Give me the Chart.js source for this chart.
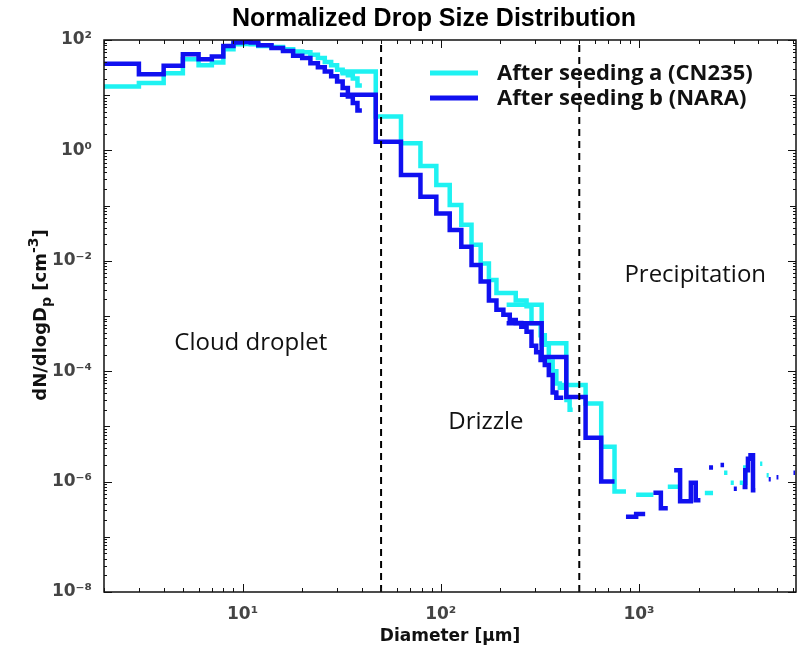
<!DOCTYPE html>
<html><head><meta charset="utf-8">
<script src="https://cdn.jsdelivr.net/npm/chart.js@4"></script>
<style>html,body{margin:0;padding:0;background:#fff}</style>
</head><body>
<canvas id="c" width="800" height="655"></canvas>
<script>
// ---------- data ----------
// Droplet probe, bin edges in µm
const cdpEdges = [2,3,4,5,6,7,8,9,10,11,12,13,14,16,18,20,22,24,26,28,30,32,34,36,38,40,42,44,46,48,50];
const cyanCdp = [14.4,16.6,25,44.7,35,39,68,84,85,84,78,78,75,68,62,60,54,47,40,35,29,25,23,20,15,null,null,null,null,null];
const blueCdp = [37,24,34,55,45,50,78,90,92,90,80,80,72,63,52,47,38,32,27,22,17.8,13.5,9.5,7.2,5.3,null,null,null,null,null];

// Cloud imaging probe, bin edges in µm
const probe2Edges = [31,47,63,79,95,111,127,143,159,175,191,207,223,239,255,271,287,303,319,335,351,367,383,399,415,431,447,463];
const cyanProbe2 = [27,4.1,1.35,0.52,0.236,0.103,0.045,0.0195,0.0089,0.0045,0.0026,0.0026,0.0026,0.0019,0.0019,0.0015,0.00074,0.00074,0.00045,0.0003,0.00015,0.0001,0.00006,0.00005,0.000056,0.00003,0.00002];
const blueProbe2 = [10.2,1.44,0.358,0.145,0.072,0.036,0.018,0.0084,0.0042,0.0019,0.0013,0.00105,0.00085,0.00075,0.00064,0.00052,0.00029,0.00022,0.00016,0.00013,0.000085,0.000041,0.000033,0.000033,null,null,null];

// Precipitation probe, bin edges in µm
const probe3Edges = [215,323,430,538,645,753,860,968,1075,1183,1290,1398,1505,1613,1720,1828,1935,2043,2150,2258,2365,2473,2580,2688,2795,2903,3010,3118,3225,3333,3440,3548,3655,3763,3870,3978,4085,4193,4300,4408,4515,4623,4730,4838,4945,5053,5160,5268,5375,5483,5590,5698,5805,5913,6020,6128];
const cyanProbe3 = [1.6e-3,3.2e-4,5.6e-5,2.6e-5,4.3e-6,6.6e-7,null,5.8e-7,5.8e-7,null,null,8.1e-7,8.1e-7,null,null,null,null,null,6.2e-7,6.2e-7,null,null,null,1.45e-6,null,9.5e-7,null,null,9.5e-7,9.5e-7,1.8e-6,null,null,null,null,null,2.1e-6,null,null,1.3e-6,null,null,null,null,null,null,null,null,null,null,null,null,null,null,null];
const blueProbe3 = [7.4e-4,1.8e-4,3.4e-5,6.2e-6,1.0e-6,null,2.3e-7,2.6e-7,null,6.3e-7,3.3e-7,null,1.6e-6,4.4e-7,4.4e-7,9.5e-7,4.6e-7,null,null,1.8e-6,null,null,2.0e-6,null,null,null,7.4e-7,null,null,8e-7,1.6e-6,2.6e-6,3.0e-6,7e-7,null,null,null,null,null,null,1.1e-6,null,null,null,1.2e-6,null,null,null,null,null,null,null,null,null,1.45e-6];

const dividers = [50, 500];
const xTickValues = [10, 100, 1000];
const yTickValues = [1e-8, 1e-6, 1e-4, 1e-2, 1, 1e2];
const chartTitle = 'Normalized Drop Size Distribution';
const xTitle = 'Diameter [µm]';
const yTitleParts = [['dN/dlogD', 0], ['p', -1], [' [cm', 0], ['-3', 1], [']', 0]]; // 0 normal, -1 subscript, 1 superscript
const seriesNames = ['After seeding a (CN235)', 'After seeding b (NARA)'];
const regionNames = ['Cloud droplet', 'Drizzle', 'Precipitation'];
const regionAnchors = [[11, 3.2e-4], [169, 1.2e-5], [1923, 5.5e-3]]; // label centres, in data units

// ---------- styling ----------
const CYAN = '#1ef2f2';
const BLUE = '#1010f0';
const seriesColors = [CYAN, BLUE];
const LINE_W = 4.5;

const SUP = {'0':'⁰','1':'¹','2':'²','3':'³','4':'⁴','5':'⁵','6':'⁶','7':'⁷','8':'⁸','9':'⁹','-':'⁻'};
const supLabel = v => '10' + String(Math.round(Math.log10(v))).split('').map(c => SUP[c]).join('');

function histPoints(edges, values) {
  const pts = [];
  for (let i = 0; i < values.length; i++) {
    const v = values[i];
    if (v == null) { pts.push({x: edges[i], y: null}); continue; }
    pts.push({x: edges[i], y: v}, {x: edges[i + 1], y: v});
  }
  return pts;
}

function series(edges, values, idx) {
  return {
    data: histPoints(edges, values),
    borderColor: seriesColors[idx], backgroundColor: seriesColors[idx],
    borderWidth: LINE_W, pointRadius: 0, spanGaps: false, fill: false,
    order: idx === 0 ? 3 : 2
  };
}

const datasets = [
  series(cdpEdges, cyanCdp, 0), series(probe2Edges, cyanProbe2, 0), series(probe3Edges, cyanProbe3, 0),
  series(cdpEdges, blueCdp, 1), series(probe2Edges, blueProbe2, 1), series(probe3Edges, blueProbe3, 1),
  ...dividers.map(d => ({
    data: [{x: d, y: yTickValues[0]}, {x: d, y: yTickValues[yTickValues.length - 1]}],
    borderColor: '#000', borderWidth: 2, borderDash: [7, 5], pointRadius: 0, order: 0
  }))
];

const decoPlugin = {
  id: 'deco',
  afterDatasetsDraw(chart) {
    const {ctx, chartArea: a, scales: {x, y}} = chart;
    ctx.save();
    // frame
    ctx.strokeStyle = '#111'; ctx.lineWidth = 1.5;
    ctx.strokeRect(a.left, a.top, a.right - a.left, a.bottom - a.top);
    ctx.lineWidth = 1;
    // x ticks (inside, bottom & top)
    for (let d = 0; d <= 3; d++) {
      for (let k = 1; k <= 9; k++) {
        const v = k * Math.pow(10, d);
        if (v < x.min || v > x.max) continue;
        const px = Math.round(x.getPixelForValue(v)) + 0.5;
        const len = k === 1 ? 8 : 4;
        ctx.beginPath();
        ctx.moveTo(px, a.bottom); ctx.lineTo(px, a.bottom - len);
        ctx.moveTo(px, a.top); ctx.lineTo(px, a.top + len);
        ctx.stroke();
      }
    }
    // y ticks (inside, left & right)
    for (let d = -8; d <= 2; d++) {
      for (let k = 1; k <= 9; k++) {
        const v = k * Math.pow(10, d);
        if (v < y.min * 0.999 || v > y.max * 1.001) continue;
        const py = Math.round(y.getPixelForValue(v)) + 0.5;
        const len = k === 1 ? (d % 2 === 0 ? 8 : 6) : 3;
        ctx.beginPath();
        ctx.moveTo(a.left, py); ctx.lineTo(a.left + len, py);
        ctx.moveTo(a.right, py); ctx.lineTo(a.right - len, py);
        ctx.stroke();
      }
    }
    // region labels
    ctx.fillStyle = '#111';
    ctx.font = '24px "Open Sans"';
    ctx.textAlign = 'center'; ctx.textBaseline = 'middle';
    regionNames.forEach((t, i) => {
      const [dx, dy] = regionAnchors[i];
      ctx.fillText(t, x.getPixelForValue(dx), y.getPixelForValue(dy));
    });
    // legend
    ctx.font = 'bold 22px "Open Sans"';
    ctx.textAlign = 'left';
    seriesNames.forEach((t, i) => {
      const ly = 73 + i * 25;
      ctx.strokeStyle = seriesColors[i]; ctx.lineWidth = 5;
      ctx.beginPath(); ctx.moveTo(430, ly); ctx.lineTo(478, ly); ctx.stroke();
      ctx.fillStyle = '#111';
      ctx.fillText(t, 497, ly + 1);
    });
    // title
    ctx.font = 'bold 25px "Liberation Sans"';
    ctx.textAlign = 'center'; ctx.fillStyle = '#000';
    ctx.fillText(chartTitle, 434, 19);
    // y-axis title with sub/superscripts, rotated
    const big = 'bold 18px "DejaVu Sans"', small = 'bold 14px "DejaVu Sans"';
    let total = 0;
    yTitleParts.forEach(([t, s]) => { ctx.font = s ? small : big; total += ctx.measureText(t).width; });
    ctx.translate(40, (a.top + a.bottom) / 2 - 1);
    ctx.rotate(-Math.PI / 2);
    ctx.textAlign = 'left'; ctx.textBaseline = 'alphabetic'; ctx.fillStyle = '#111';
    let cx = -total / 2;
    yTitleParts.forEach(([t, s]) => {
      ctx.font = s ? small : big;
      ctx.fillText(t, cx, 6 + (s === -1 ? 5 : s === 1 ? -8 : 0));
      cx += ctx.measureText(t).width;
    });
    ctx.restore();
  }
};

const tickFont = {family: 'DejaVu Sans', size: 17, weight: 'bold'};
const titleFont = {family: 'DejaVu Sans', size: 17, weight: 'bold'};

new Chart(document.getElementById('c'), {
  type: 'line',
  data: {datasets},
  plugins: [decoPlugin],
  options: {
    responsive: false, animation: false, devicePixelRatio: 1,
    layout: {padding: {left: 0, right: 4, top: 40, bottom: 0}},
    elements: {line: {tension: 0, borderJoinStyle: 'miter', borderCapStyle: 'butt'}, point: {radius: 0}},
    plugins: {legend: {display: false}, tooltip: {enabled: false}, title: {display: false}},
    scales: {
      x: {
        type: 'logarithmic', min: 2, max: 6200,
        grid: {display: false, drawTicks: false}, border: {display: false},
        afterBuildTicks: s => { s.ticks = xTickValues.map(v => ({value: v})); },
        afterFit: s => { s.height = 63; },
        ticks: {callback: v => supLabel(v), font: tickFont, color: '#444', padding: 12, maxRotation: 0, autoSkip: false},
        title: {display: true, text: xTitle, color: '#111', font: titleFont, padding: {top: 0, bottom: 8}}
      },
      y: {
        type: 'logarithmic', min: 1e-8, max: 1e2,
        grid: {display: false, drawTicks: false}, border: {display: false},
        afterBuildTicks: s => { s.ticks = yTickValues.map(v => ({value: v})); },
        afterFit: s => { s.width = 104; },
        ticks: {callback: v => supLabel(v), font: tickFont, color: '#444', padding: 12, autoSkip: false},
        title: {display: false}
      }
    }
  }
});
</script>
</body></html>
